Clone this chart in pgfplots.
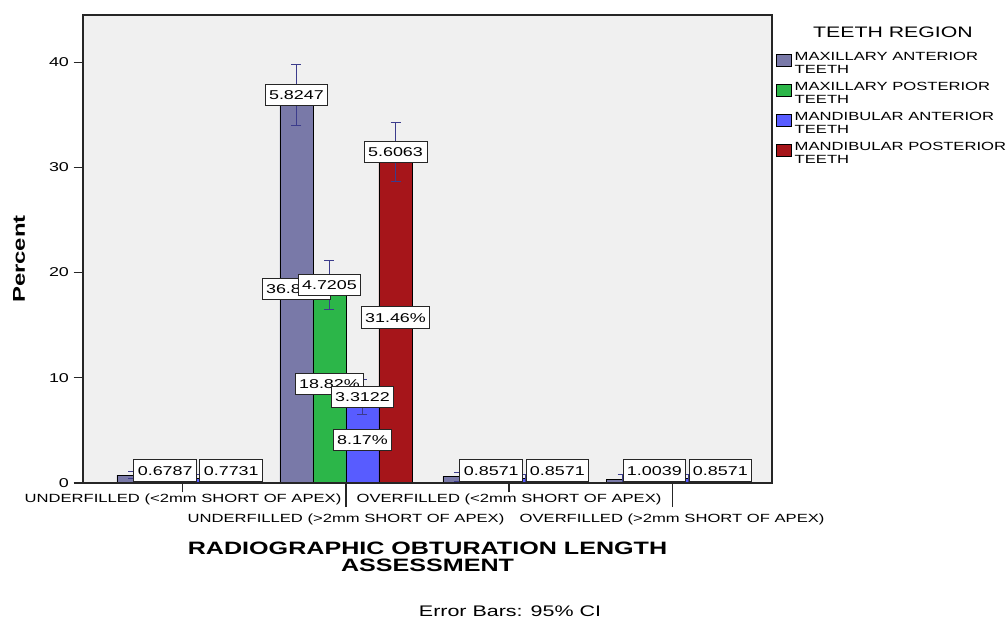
\documentclass[border=0pt]{standalone}
\usepackage{pgfplots}
\pgfplotsset{compat=1.18}
\usepackage{fontspec}
\setmainfont{Liberation Sans}[FakeStretch=1.4]
\definecolor{ma}{RGB}{121,121,168}
\definecolor{mp}{RGB}{44,182,73}
\definecolor{mda}{RGB}{88,92,255}
\definecolor{mdp}{RGB}{166,21,26}
\definecolor{errc}{RGB}{60,60,140}
\definecolor{plotbg}{RGB}{240,240,240}
\tikzset{vbox/.style={draw=black!85, line width=0.6pt, fill=white, font=\fontsize{9.6}{11}\selectfont, inner xsep=3pt, inner ysep=4.5pt, text height=6.9pt, text depth=0pt}}
\begin{document}
\begin{tikzpicture}
\fill[white] (-62.25pt,-103.5pt) rectangle (692.25pt,362.25pt);
\path[use as bounding box] (-62.25pt,-103.5pt) rectangle (692.25pt,362.25pt);
\begin{axis}[
  at={(0pt,0pt)}, anchor=south west,
  scale only axis, width=516.75pt, height=351pt,
  xmin=-0.613, xmax=3.613, ymin=0, ymax=44.47,
  ybar=0pt, bar width=0.2025,
  axis background/.style={fill=plotbg},
  axis line style={line width=1pt, black!85},
  axis on top,
  tick pos=left,
  tick align=outside,
  major tick length=7pt,
  tick style={line width=0.8pt, black!85},
  ytick={0,10,20,30,40},
  xtick={0,2},
  xticklabels={UNDERFILLED (<2mm SHORT OF APEX), OVERFILLED (<2mm SHORT OF APEX)},
  extra x ticks={1,3},
  extra x tick labels={UNDERFILLED (>2mm SHORT OF APEX), OVERFILLED (>2mm SHORT OF APEX)},
  extra x tick style={major tick length=18pt, xticklabel style={yshift=-3.7pt}},
  xticklabel style={font=\fontsize{8.9}{10}\selectfont, yshift=2pt},
  yticklabel style={font=\fontsize{9.6}{11}\selectfont},
  /pgf/number format/assume math mode=true,
  ylabel={Percent},
  ylabel style={font=\bfseries\fontsize{12.8}{14}\selectfont, at={(axis description cs:-0.0929,0.4786)}, anchor=center},
  xlabel={RADIOGRAPHIC OBTURATION LENGTH\\ASSESSMENT},
  xlabel style={align=center, font=\bfseries\fontsize{13.45}{12.5}\selectfont, at={(axis description cs:0.5,-0.158)}, anchor=center},
  legend style={at={(axis description cs:1.0,0.935)}, anchor=north west, draw=none, fill=none, font=\fontsize{8.9}{9.8}\selectfont, row sep=5pt, legend cell align=left},
  legend image code/.code={\draw[#1, draw=black, line width=0.6pt] (0pt,-4.5pt) rectangle (11.25pt,4.5pt);},
]
\addplot[fill=ma, draw=black, line width=0.6pt, bar shift=-0.30375,
  error bars/.cd, y dir=both, y explicit,
  error bar style={errc, line width=0.75pt}, error mark options={errc, line width=0.75pt, mark size=3.75pt, rotate=90}]
  coordinates {(0,0.75) +- (0,0.339) (1,36.84) +- (0,2.912) (2,0.6) +- (0,0.429) (3,0.35) +- (0,0.502)};
\addlegendentry{\begin{tabular}[c]{@{}l@{}}MAXILLARY ANTERIOR\\TEETH\end{tabular}}
\addplot[fill=mp, draw=black, line width=0.6pt, bar shift=-0.10125,
  error bars/.cd, y dir=both, y explicit,
  error bar style={errc, line width=0.75pt}, error mark options={errc, line width=0.75pt, mark size=3.75pt, rotate=90}]
  coordinates {(0,0) +- (0,0) (1,18.82) +- (0,2.360) (2,0) +- (0,0) (3,0) +- (0,0)};
\addlegendentry{\begin{tabular}[c]{@{}l@{}}MAXILLARY POSTERIOR\\TEETH\end{tabular}}
\addplot[fill=mda, draw=black, line width=0.6pt, bar shift=0.10125,
  error bars/.cd, y dir=both, y explicit,
  error bar style={errc, line width=0.75pt}, error mark options={errc, line width=0.75pt, mark size=3.75pt, rotate=90}]
  coordinates {(0,0.4) +- (0,0.387) (1,8.17) +- (0,1.656) (2,0.4) +- (0,0.429) (3,0.4) +- (0,0.429)};
\addlegendentry{\begin{tabular}[c]{@{}l@{}}MANDIBULAR ANTERIOR\\TEETH\end{tabular}}
\addplot[fill=mdp, draw=black, line width=0.6pt, bar shift=0.30375,
  error bars/.cd, y dir=both, y explicit,
  error bar style={errc, line width=0.75pt}, error mark options={errc, line width=0.75pt, mark size=3.75pt, rotate=90}]
  coordinates {(0,0) +- (0,0) (1,31.46) +- (0,2.803) (2,0) +- (0,0) (3,0) +- (0,0)};
\addlegendentry{\begin{tabular}[c]{@{}l@{}}MANDIBULAR POSTERIOR\\TEETH\end{tabular}}
% percent labels (mid-bar)
\node[vbox] at (axis cs:0.69625,18.42) {36.84\%};
\node[vbox] at (axis cs:0.89875,9.41) {18.82\%};
\node[vbox] at (axis cs:1.10125,4.085) {8.17\%};
\node[vbox] at (axis cs:1.30375,15.73) {31.46\%};
% CI width labels
\node[vbox] at (axis cs:0.69625,36.84) {5.8247};
\node[vbox] at (axis cs:0.89875,18.82) {4.7205};
\node[vbox] at (axis cs:1.10125,8.17) {3.3122};
\node[vbox] at (axis cs:1.30375,31.46) {5.6063};
\node[vbox, anchor=west] at (axis cs:-0.30375,1.19) {0.6787};
\node[vbox, anchor=west] at (axis cs:0.10125,1.19) {0.7731};
\node[vbox, anchor=west] at (axis cs:1.69625,1.19) {0.8571};
\node[vbox, anchor=west] at (axis cs:2.10125,1.19) {0.8571};
\node[vbox, anchor=west] at (axis cs:2.69625,1.19) {1.0039};
\node[vbox, anchor=west] at (axis cs:3.10125,1.19) {0.8571};
\end{axis}
\node[font=\fontsize{11.4}{13}\selectfont] at (607.5pt,338.25pt) {TEETH REGION};
\node[font=\fontsize{11.5}{13}\selectfont] at (320.25pt,-96.4pt) {Error Bars: 95\% CI};
\end{tikzpicture}
\end{document}
